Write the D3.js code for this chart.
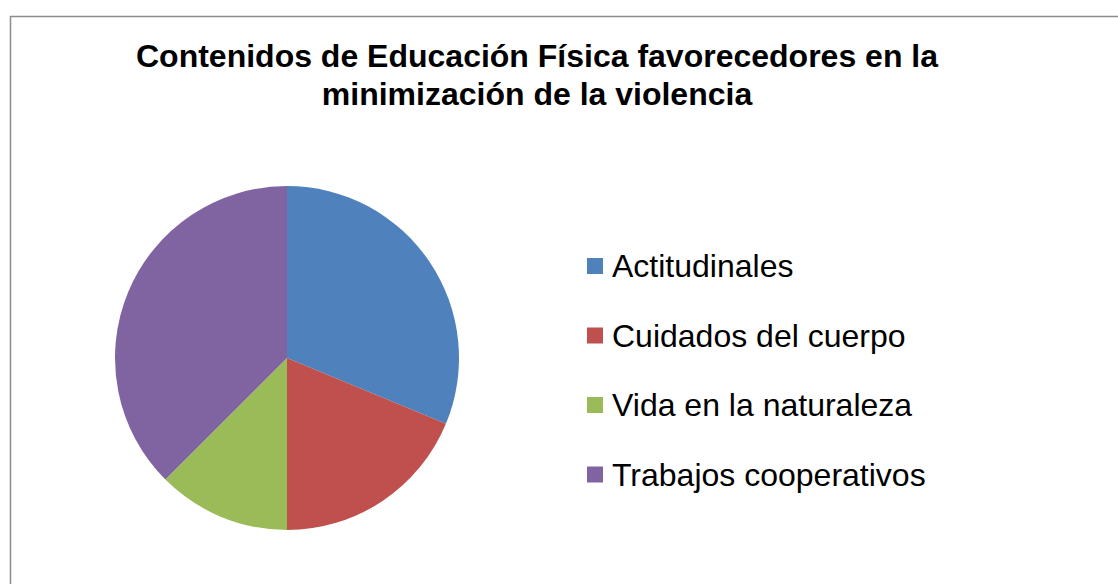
<!DOCTYPE html>
<html>
<head>
<meta charset="utf-8">
<script src="https://cdn.jsdelivr.net/npm/d3@7"></script>
<style>
  html, body { margin: 0; padding: 0; background: #fff; }
  svg { display: block; font-family: "Liberation Sans", Arial, sans-serif; }
</style>
</head>
<body>
<svg id="chart" width="1118" height="584"></svg>
<script>
// ===== DATA =====
const categories = ['Actitudinales', 'Cuidados del cuerpo', 'Vida en la naturaleza', 'Trabajos cooperativos'];
const values     = [5, 3, 2, 6];
const colors     = ['#4F81BD', '#C0504D', '#9BBB59', '#8064A2'];
const titleLines = ['Contenidos de Educación Física favorecedores en la', 'minimización de la violencia'];

const svg = d3.select('#chart');

// Chart frame (runs off the right and bottom edge)
svg.append('rect')
    .attr('x', 10.5).attr('y', 16.5)
    .attr('width', 1130).attr('height', 600)
    .attr('fill', '#fff')
    .attr('stroke', '#8c8c8c')
    .attr('stroke-width', 1.5);

// Title
svg.append('text')
    .attr('x', 538).attr('y', 67)
    .attr('text-anchor', 'middle')
    .attr('font-size', 32)
    .attr('font-weight', 'bold')
    .selectAll('tspan')
    .data(titleLines)
    .enter().append('tspan')
    .attr('x', 537)
    .attr('dy', (d, i) => i ? 37.5 : 0)
    .text(d => d);

// ===== PIE =====
const data = categories.map((c, i) => ({ name: c, value: values[i] }));
const color = d3.scaleOrdinal().domain(categories).range(colors);

const pie = d3.pie().value(d => d.value).sort(null);
const arc = d3.arc().innerRadius(0).outerRadius(172);

svg.append('g')
    .attr('transform', 'translate(287,358)')
    .selectAll('path')
    .data(pie(data))
    .enter().append('path')
    .attr('d', arc)
    .attr('fill', d => color(d.data.name));

// ===== LEGEND =====
const legend = svg.append('g').attr('transform', 'translate(587,266)');
const row = legend.selectAll('g')
    .data(categories)
    .enter().append('g')
    .attr('transform', (d, i) => `translate(0,${i * 69.5})`);

row.append('rect')
    .attr('x', 0).attr('y', -8)
    .attr('width', 16).attr('height', 16)
    .attr('fill', d => color(d));

row.append('text')
    .attr('x', 25).attr('y', 0)
    .attr('dy', '0.35em')
    .attr('font-size', 32)
    .attr('fill', '#000')
    .text(d => d);
</script>
</body>
</html>
